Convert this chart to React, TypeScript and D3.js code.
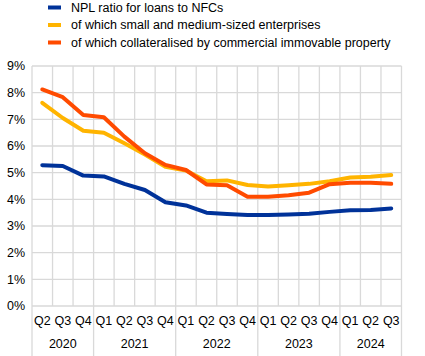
import React from "react";
import * as d3 from "d3";

const quarters = ["Q2","Q3","Q4","Q1","Q2","Q3","Q4","Q1","Q2","Q3","Q4","Q1","Q2","Q3","Q4","Q1","Q2","Q3"];
const years = [
  { label: "2020", count: 3 },
  { label: "2021", count: 4 },
  { label: "2022", count: 4 },
  { label: "2023", count: 4 },
  { label: "2024", count: 3 },
];
const nplNfc = [5.28, 5.25, 4.89, 4.86, 4.58, 4.35, 3.89, 3.77, 3.5, 3.45, 3.41, 3.41, 3.43, 3.46, 3.53, 3.59, 3.6, 3.66];
const sme = [7.62, 7.05, 6.57, 6.5, 6.1, 5.68, 5.22, 5.08, 4.68, 4.71, 4.54, 4.48, 4.53, 4.58, 4.68, 4.82, 4.85, 4.91];
const cre = [8.12, 7.83, 7.16, 7.08, 6.35, 5.73, 5.29, 5.1, 4.56, 4.53, 4.1, 4.1, 4.15, 4.25, 4.57, 4.62, 4.62, 4.58];
const yTicks = [0, 1, 2, 3, 4, 5, 6, 7, 8, 9];

const seriesList = [
  { name: "NPL ratio for loans to NFCs", values: nplNfc, color: "#003299" },
  { name: "of which small and medium-sized enterprises", values: sme, color: "#FFB400" },
  { name: "of which collateralised by commercial immovable property", values: cre, color: "#FF4B00" },
];

const W = 425, H = 356;
const left = 32, right = 401.5, top = 66, bottom = 306;
const font = "'Liberation Sans', Arial, sans-serif";
const grid = "#d9d9d9";

export default function App() {
  const x = d3.scaleBand<number>().domain(d3.range(quarters.length)).range([left, right]).padding(0);
  const y = d3.scaleLinear().domain([0, 9]).range([bottom, top]);
  const bw = x.bandwidth();
  const line = d3.line<number>().x((_, i) => (x(i) as number) + bw / 2).y(d => y(d)).curve(d3.curveLinear);

  let acc = 0;
  const yearBounds = years.map(yr => {
    const s = acc; acc += yr.count;
    return { ...yr, start: s, end: acc };
  });

  return (
    <svg width={W} height={H} style={{ position: "absolute", left: 0, top: 0 }} fontFamily={font}>
      <rect width={W} height={H} fill="#fff" />
      {yTicks.map(t => (
        <g key={t}>
          <line x1={left} x2={right} y1={y(t)} y2={y(t)} stroke={grid} strokeWidth={1.3} />
          <text x={25} y={y(t)} dy="0.35em" textAnchor="end" fontSize={12.5} fill="#000">{t}%</text>
        </g>
      ))}
      {d3.range(quarters.length + 1).map(i => {
        const xx = i < quarters.length ? (x(i) as number) : right;
        const isYear = yearBounds.some(b => b.start === i) || i === quarters.length;
        return <line key={i} x1={xx} x2={xx} y1={top} y2={isYear ? H : bottom} stroke={grid} strokeWidth={1.3} />;
      })}
      {quarters.map((q, i) => (
        <text key={i} x={(x(i) as number) + bw / 2} y={321} dy="0.35em" textAnchor="middle" fontSize={12.5} fill="#000">{q}</text>
      ))}
      {yearBounds.map(b => (
        <text key={b.label} x={((x(b.start) as number) + (b.end < quarters.length ? (x(b.end) as number) : right)) / 2} y={344} dy="0.35em" textAnchor="middle" fontSize={12.5} fill="#000">{b.label}</text>
      ))}
      {seriesList.map(s => (
        <path key={s.name} d={line(s.values) || ""} fill="none" stroke={s.color} strokeWidth={4} strokeLinejoin="round" strokeLinecap="round" />
      ))}
      {seriesList.map((s, i) => (
        <g key={s.name} transform={`translate(0, ${7.5 + i * 17.5})`}>
          <rect x={48} y={-2} width={13} height={4} fill={s.color} />
          <text x={71} y={0} dy="0.35em" fontSize={12.5} fill="#000">{s.name}</text>
        </g>
      ))}
    </svg>
  );
}
